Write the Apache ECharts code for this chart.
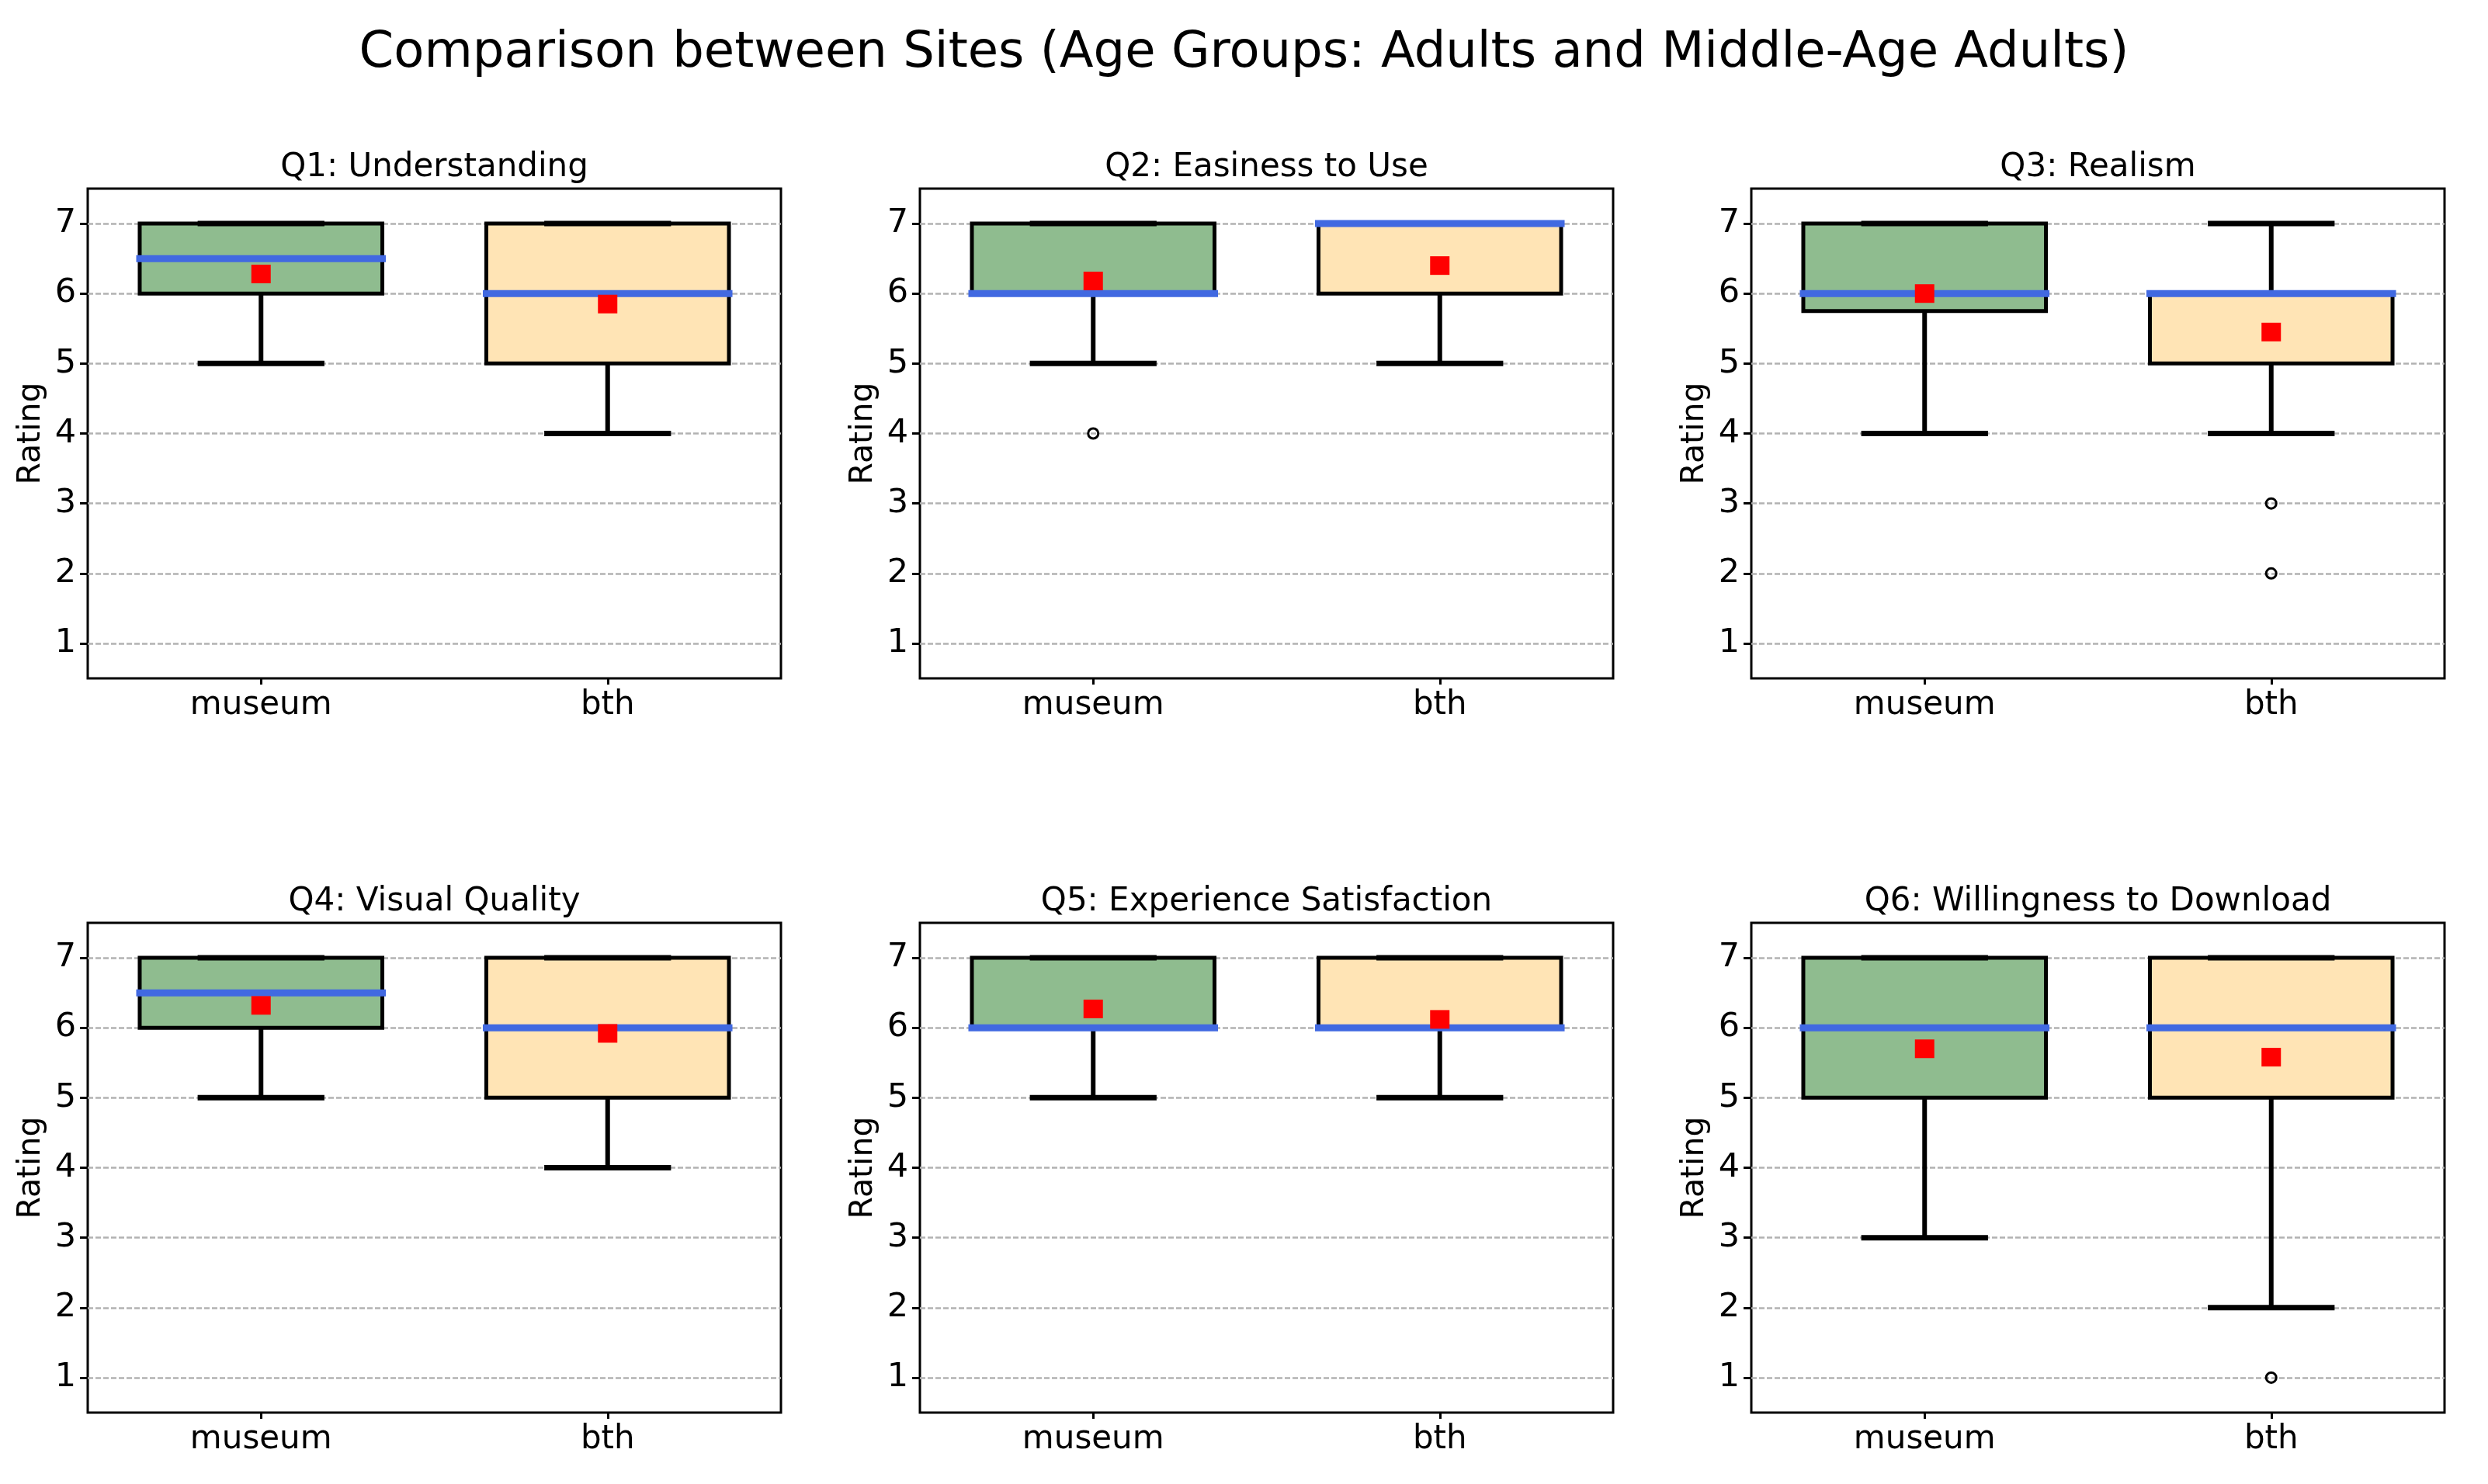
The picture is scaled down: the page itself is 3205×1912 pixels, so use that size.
<!DOCTYPE html>
<html>
<head>
<meta charset="utf-8">
<script src="https://cdn.jsdelivr.net/npm/echarts@6/dist/echarts.min.js"></script>
<style>
html,body{margin:0;padding:0;background:#ffffff;}
#c{width:3205px;height:1912px;}
</style>
</head>
<body>
<div id="c"></div>
<script>
// ---------------- data ----------------
const figureTitle = 'Comparison between Sites (Age Groups: Adults and Middle-Age Adults)';
const questions = [
  'Q1: Understanding',
  'Q2: Easiness to Use',
  'Q3: Realism',
  'Q4: Visual Quality',
  'Q5: Experience Satisfaction',
  'Q6: Willingness to Download'
];
const sites = ['museum', 'bth'];
const yTicks = [1, 2, 3, 4, 5, 6, 7];
// [lower whisker, Q1, median, Q3, upper whisker]
const museumStats = [
  [5, 6, 6.5, 7, 7],
  [5, 6, 6, 7, 7],
  [4, 5.75, 6, 7, 7],
  [5, 6, 6.5, 7, 7],
  [5, 6, 6, 7, 7],
  [3, 5, 6, 7, 7]
];
const bthStats = [
  [4, 5, 6, 7, 7],
  [5, 6, 7, 7, 7],
  [4, 5, 6, 6, 7],
  [4, 5, 6, 7, 7],
  [5, 6, 6, 7, 7],
  [2, 5, 6, 7, 7]
];
const museumMeans = [6.28, 6.18, 6.00, 6.32, 6.27, 5.70];
const bthMeans = [5.85, 6.40, 5.45, 5.92, 6.12, 5.58];
const museumOutliers = [[], [4], [], [], [], []];
const bthOutliers = [[], [], [3, 2], [], [], [1]];

// ---------------- styling / layout ----------------
const FONT = 'DejaVu Sans';
const boxColors = ['#8fbc8f', '#ffe4b5'];
const colLefts = [113, 1185, 2256];
const rowTops = [243, 1189];
const gridW = 893, gridH = 631;

function renderBox(params, api) {
  const xi = api.value(0);
  const vals = [api.value(1), api.value(2), api.value(3), api.value(4), api.value(5)];
  const fill = boxColors[api.value(6)];
  const band = api.size([1, 0])[0];
  const cx = api.coord([xi, vals[2]])[0];
  const py = vals.map(v => api.coord([xi, v])[1]);
  const bw = band * 0.7, half = bw / 2, capHalf = bw / 4;
  return {
    type: 'group',
    children: [
      { type: 'rect', shape: { x: cx - half, y: py[3], width: bw, height: py[1] - py[3] },
        style: { fill: fill, stroke: '#000', lineWidth: 5 } },
      { type: 'line', shape: { x1: cx, y1: py[0], x2: cx, y2: py[1] },
        style: { stroke: '#000', lineWidth: 6 } },
      { type: 'line', shape: { x1: cx, y1: py[3], x2: cx, y2: py[4] },
        style: { stroke: '#000', lineWidth: 6 } },
      { type: 'line', shape: { x1: cx - capHalf, y1: py[0], x2: cx + capHalf, y2: py[0] },
        style: { stroke: '#000', lineWidth: 7, lineCap: 'square' } },
      { type: 'line', shape: { x1: cx - capHalf, y1: py[4], x2: cx + capHalf, y2: py[4] },
        style: { stroke: '#000', lineWidth: 7, lineCap: 'square' } },
      { type: 'line', shape: { x1: cx - half, y1: py[2], x2: cx + half, y2: py[2] },
        style: { stroke: '#4169e1', lineWidth: 9, lineCap: 'square' } }
    ]
  };
}

const grids = [], xAxes = [], yAxes = [], series = [];
const titles = [{
  text: figureTitle, left: 'center', top: 37, padding: 0,
  textStyle: { fontSize: 64, fontWeight: 'normal', fontFamily: FONT, color: '#000' }
}];

questions.forEach((q, i) => {
  const col = i % 3, row = Math.floor(i / 3);
  grids.push({
    left: colLefts[col], top: rowTops[row], width: gridW, height: gridH,
    show: true, borderColor: '#000', borderWidth: 3, backgroundColor: 'transparent',
    containLabel: false, outerBoundsMode: 'none'
  });
  titles.push({
    text: q, left: colLefts[col] + gridW / 2, top: rowTops[row] - 48, textAlign: 'center', padding: 0,
    textStyle: { fontSize: 42, fontWeight: 'normal', fontFamily: FONT, color: '#000' }
  });
  xAxes.push({
    gridIndex: i, type: 'category', data: sites, boundaryGap: true,
    axisLine: { show: false },
    axisTick: { show: true, alignWithLabel: true, length: 8, lineStyle: { color: '#000', width: 3 } },
    axisLabel: { fontSize: 42, fontFamily: FONT, color: '#000', margin: 14 },
    splitLine: { show: false }
  });
  yAxes.push({
    gridIndex: i, type: 'value', min: 0.5, max: 7.5, splitNumber: 7,
    name: 'Rating', nameLocation: 'middle', nameGap: 52, nameRotate: 90,
    nameTextStyle: { fontSize: 41, fontFamily: FONT, color: '#000' },
    axisLine: { show: false },
    axisTick: { show: true, length: 10, customValues: yTicks, lineStyle: { color: '#000', width: 3 } },
    axisLabel: { customValues: yTicks, fontSize: 43, fontFamily: FONT, color: '#000', margin: 15 },
    splitLine: { show: true, lineStyle: { color: '#b2b2b2', width: 2.5, type: [7, 3] } }
  });
  series.push({
    type: 'custom', xAxisIndex: i, yAxisIndex: i, renderItem: renderBox, z: 2, silent: true,
    encode: { x: 0, y: [1, 2, 3, 4, 5] },
    data: [[0].concat(museumStats[i], [0]), [1].concat(bthStats[i], [1])]
  });
  series.push({
    type: 'scatter', xAxisIndex: i, yAxisIndex: i, z: 4, silent: true,
    symbol: 'rect', symbolSize: [25, 24], itemStyle: { color: '#ff0000', opacity: 1 },
    data: [[0, museumMeans[i]], [1, bthMeans[i]]]
  });
  series.push({
    type: 'scatter', xAxisIndex: i, yAxisIndex: i, z: 4, silent: true,
    symbol: 'circle', symbolSize: 13,
    itemStyle: { color: 'rgba(0,0,0,0)', borderColor: '#000', borderWidth: 3, opacity: 1 },
    data: museumOutliers[i].map(v => [0, v]).concat(bthOutliers[i].map(v => [1, v]))
  });
});

const chart = echarts.init(document.getElementById('c'), null, { renderer: 'canvas' });
chart.setOption({
  backgroundColor: '#ffffff',
  animation: false,
  title: titles,
  grid: grids,
  xAxis: xAxes,
  yAxis: yAxes,
  series: series
});
</script>
</body>
</html>
